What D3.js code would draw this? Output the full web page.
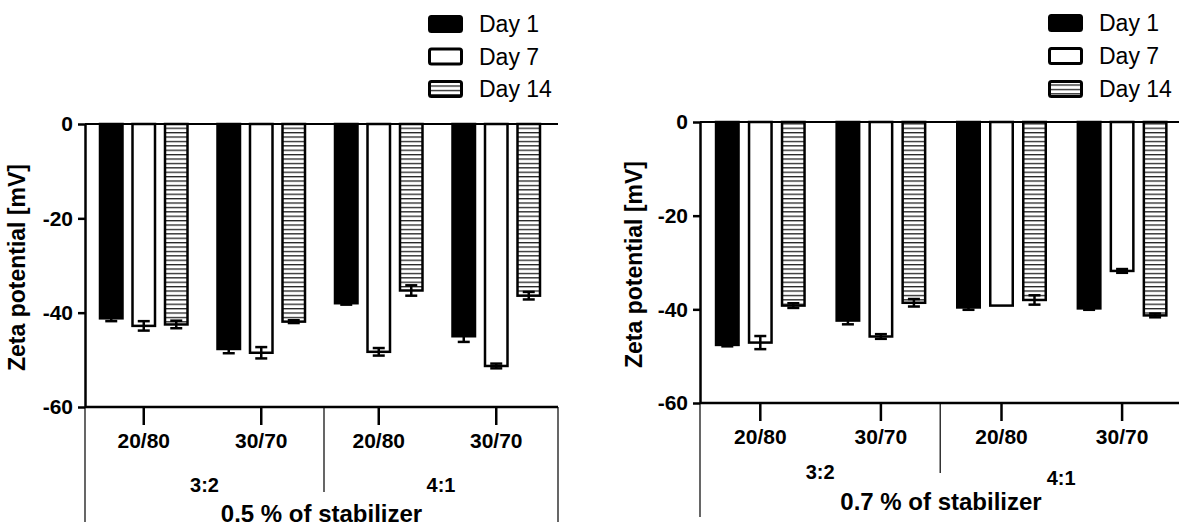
<!DOCTYPE html>
<html lang="en">
<head>
<meta charset="utf-8">
<title>Zeta potential</title>
<script src="https://cdnjs.cloudflare.com/ajax/libs/d3/7.8.5/d3.min.js"></script>
<style>
    body { margin: 0; background: #fff; }
    svg { display: block; font-family: "Liberation Sans", Arial, sans-serif; }
    .tick text { font-weight: bold; }
</style>
</head>
<body>
<svg width="1179" height="526"></svg>
<script>
var categories = ["3:2 20/80", "3:2 30/70", "4:1 20/80", "4:1 30/70"];
var ratioLabels = ["20/80", "30/70", "20/80", "30/70"];
var groupLabels = ["3:2", "4:1"];
var series = ["Day 1", "Day 7", "Day 14"];
var yTicks = [0, -20, -40, -60];

// 0.5 % of stabilizer
var day1_05 = [-41.2, -47.7, -38.0, -45.0];
var day7_05 = [-42.8, -48.5, -48.3, -51.3];
var day14_05 = [-42.5, -41.9, -35.3, -36.4];
var day1_05_err = [0.6, 0.9, 0.3, 1.2];
var day7_05_err = [1.0, 1.2, 0.8, 0.5];
var day14_05_err = [0.8, 0.3, 1.1, 0.8];

// 0.7 % of stabilizer
var day1_07 = [-47.6, -42.4, -39.6, -39.8];
var day7_07 = [-47.1, -45.8, -39.2, -31.8];
var day14_07 = [-39.2, -38.6, -38.0, -41.3];
var day1_07_err = [0.3, 0.8, 0.5, 0.3];
var day7_07_err = [1.4, 0.5, 0, 0.4];
var day14_07_err = [0.5, 0.8, 1.0, 0.4];

var svg = d3.select("svg");

var defs = svg.append("defs");
var pat = defs.append("pattern")
    .attr("id", "hatch")
    .attr("patternUnits", "userSpaceOnUse")
    .attr("width", 8)
    .attr("height", 4.4);
pat.append("rect").attr("width", 8).attr("height", 4.4).attr("fill", "#fff");
pat.append("rect").attr("width", 8).attr("height", 1.3).attr("fill", "#222");

var fills = ["#000", "#fff", "url(#hatch)"];

function drawPanel(p) {
    var values = [p.d1, p.d7, p.d14];
    var errs = [p.e1, p.e7, p.e14];

    var x = d3.scaleBand().domain(categories).range([p.x0, p.x1]);
    var barW = 22.5;
    var pi = 1 - barW / p.barStep;
    var half = p.barStep * (series.length - pi) / 2;
    var xs = d3.scaleBand().domain(series).range([-half, half]).paddingInner(pi);
    var y = d3.scaleLinear().domain([0, -60]).range([p.yTop, p.yBottom]);

    var g = svg.append("g");

    // bars
    series.forEach(function(s, si) {
        var rows = categories.map(function(c, ci) {
            return { c: c, v: values[si][ci], e: errs[si][ci] };
        });
        g.selectAll(".bar" + si)
            .data(rows)
            .enter().append("rect")
            .attr("x", function(d) { return x(d.c) + x.bandwidth() / 2 + xs(s); })
            .attr("y", y(0))
            .attr("width", xs.bandwidth())
            .attr("height", function(d) { return y(d.v) - y(0); })
            .attr("fill", fills[si])
            .attr("stroke", "#000")
            .attr("stroke-width", 2.5);

        // error bars
        var eb = g.selectAll(".err" + si)
            .data(rows.filter(function(d) { return d.e > 0; }))
            .enter().append("g")
            .attr("stroke", "#000")
            .attr("stroke-width", 2.5);
        var cx = function(d) { return x(d.c) + x.bandwidth() / 2 + xs(s) + xs.bandwidth() / 2; };
        eb.append("line")
            .attr("x1", cx).attr("x2", cx)
            .attr("y1", function(d) { return y(d.v + d.e); })
            .attr("y2", function(d) { return y(d.v - d.e); });
        [1, -1].forEach(function(sign) {
            eb.append("line")
                .attr("x1", function(d) { return cx(d) - 6; })
                .attr("x2", function(d) { return cx(d) + 6; })
                .attr("y1", function(d) { return y(d.v + sign * d.e); })
                .attr("y2", function(d) { return y(d.v + sign * d.e); });
        });
    });

    // zero line and bottom axis line
    g.append("line")
        .attr("x1", p.x0).attr("x2", p.axisEnd)
        .attr("y1", y(0)).attr("y2", y(0))
        .attr("stroke", "#000").attr("stroke-width", 2);
    g.append("line")
        .attr("x1", p.x0).attr("x2", p.axisEnd)
        .attr("y1", y(-60)).attr("y2", y(-60))
        .attr("stroke", "#000").attr("stroke-width", 2.5);

    // y axis
    var ya = g.append("g")
        .attr("transform", "translate(" + p.x0 + ",0)")
        .call(d3.axisLeft(y).tickValues(yTicks).tickSize(7).tickSizeOuter(0).tickPadding(5)
            .tickFormat(function(d) { return d; }));
    ya.select(".domain").attr("stroke-width", 2.5);
    ya.selectAll(".tick line").attr("stroke-width", 2.5);
    ya.selectAll(".tick text").style("font-size", "21px").attr("fill", "#000");

    // x axis
    var xa = g.append("g")
        .attr("transform", "translate(0," + y(-60) + ")")
        .call(d3.axisBottom(x).tickSize(18).tickPadding(8)
            .tickFormat(function(d, i) { return ratioLabels[i]; }));
    xa.select(".domain").remove();
    xa.selectAll(".tick line").attr("stroke-width", 2.5);
    xa.selectAll(".tick text").style("font-size", "21px").attr("fill", "#000");

    // group brackets
    var divX = x(categories[2]) + p.divShift;
    g.append("line")
        .attr("x1", p.x0).attr("x2", p.x0)
        .attr("y1", y(-60)).attr("y2", p.bracketBottom)
        .attr("stroke", "#000").attr("stroke-width", 1.2);
    g.append("line")
        .attr("x1", p.axisEnd).attr("x2", p.axisEnd)
        .attr("y1", y(-60)).attr("y2", p.bracketBottom)
        .attr("stroke", "#000").attr("stroke-width", 1.2);
    g.append("line")
        .attr("x1", divX).attr("x2", divX)
        .attr("y1", y(-60)).attr("y2", p.dividerBottom)
        .attr("stroke", "#000").attr("stroke-width", 1.2);

    var groupCenters = [(p.x0 + divX) / 2, (divX + p.axisEnd2) / 2];
    groupLabels.forEach(function(lbl, i) {
        g.append("text")
            .attr("x", groupCenters[i])
            .attr("y", p.groupY[i])
            .attr("text-anchor", "middle")
            .attr("dy", "0.35em")
            .style("font-size", "20px")
            .style("font-weight", "bold")
            .text(lbl);
    });

    g.append("text")
        .attr("x", (p.x0 + p.axisEnd2) / 2)
        .attr("y", p.titleY)
        .attr("text-anchor", "middle")
        .attr("dy", "0.35em")
        .style("font-size", "24px")
        .style("font-weight", "bold")
        .text(p.title);

    // y axis title
    g.append("text")
        .attr("transform", "translate(" + p.yLabelX + "," + ((p.yTop + p.yBottom) / 2 + 2) + ") rotate(-90)")
        .attr("text-anchor", "middle")
        .style("font-size", "23px")
        .style("font-weight", "bold")
        .text("Zeta potential [mV]");

    // legend
    var lg = g.append("g").attr("transform", "translate(" + p.legX + "," + p.legY + ")");
    series.forEach(function(s, si) {
        lg.append("rect")
            .attr("x", 1.5).attr("y", si * p.legStep + 1.5)
            .attr("width", 32).attr("height", 15)
            .attr("rx", 2)
            .attr("fill", fills[si])
            .attr("stroke", "#000")
            .attr("stroke-width", 3);
        lg.append("text")
            .attr("x", 51)
            .attr("y", si * p.legStep + 9)
            .attr("dy", "0.35em")
            .style("font-size", "23px")
            .text(s);
    });
}

drawPanel({
    d1: day1_05, d7: day7_05, d14: day14_05,
    e1: day1_05_err, e7: day7_05_err, e14: day14_05_err,
    x0: 85, x1: 555, axisEnd: 558, axisEnd2: 558,
    yTop: 124, yBottom: 407, barStep: 32.5,
    divShift: 4, bracketBottom: 522, dividerBottom: 492,
    groupY: [485, 485], titleY: 514, title: "0.5 % of stabilizer",
    yLabelX: 25, legX: 428, legY: 15, legStep: 32.5
});

drawPanel({
    d1: day1_07, d7: day7_07, d14: day14_07,
    e1: day1_07_err, e7: day7_07_err, e14: day14_07_err,
    x0: 700, x1: 1182.4, axisEnd: 1180, axisEnd2: 1182,
    yTop: 122, yBottom: 403, barStep: 33,
    divShift: -1, bracketBottom: 517, dividerBottom: 473,
    groupY: [472, 478], titleY: 502, title: "0.7 % of stabilizer",
    yLabelX: 642, legX: 1048, legY: 14, legStep: 33
});
</script>
</body>
</html>
